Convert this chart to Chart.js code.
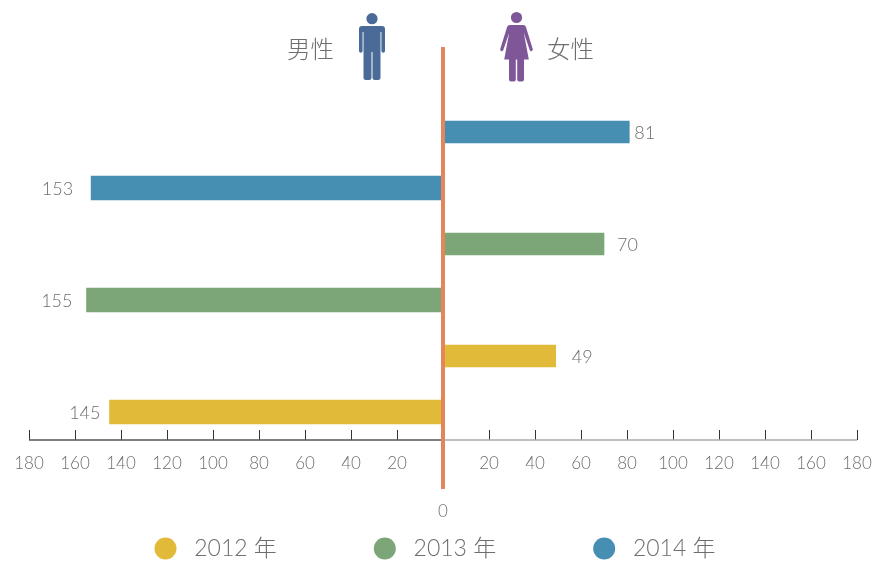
<!DOCTYPE html>
<html><head><meta charset="utf-8">
<style>
html,body{margin:0;padding:0;background:#fff;width:878px;height:562px;overflow:hidden}
#wrap{position:relative;width:878px;height:562px}
.g{position:absolute;top:33px;font:300 23.5px/32px "Lato","Noto Sans CJK SC",sans-serif;color:#6e6e6e}
svg{position:absolute;left:0;top:0}
</style>
<script src="https://cdn.jsdelivr.net/npm/chart.js@4"></script>
</head><body>
<div id="wrap">
<canvas id="c" width="878" height="562"></canvas>
<div class="g" style="left:287px">男性</div>
<div class="g" style="left:547px">女性</div>
<svg width="878" height="100" viewBox="0 0 878 100">
 <g fill="#4a6a97">
  <circle cx="372" cy="18.7" r="5.6"/>
  <path d="M362 26h20a3 3 0 0 1 3 3v22a1.8 1.8 0 0 1-3.600 0V32h-.9V77.500a2.500 2.500 0 0 1-2.500 2.500h-3a2.500 2.500 0 0 1-2.500-2.500V52h-1V77.500a2.500 2.500 0 0 1-2.500 2.500h-3a2.500 2.500 0 0 1-2.500-2.500V32h-.9V51a1.800 1.800 0 0 1-3.600 0V29a3 3 0 0 1 3-3z"/>
 </g>
 <g fill="#7f5698">
  <circle cx="516.500" cy="17.500" r="5.600"/>
  <path d="M510 25h13c1.500 0 2.500 .8 3 2.300l6.800 22a1.600 1.600 0 0 1-3 1l-6-17.500 5 26.700h-24.600l5-26.700-6 17.500a1.600 1.600 0 0 1-3-1l6.800-22c.5-1.500 1.500-2.300 3-2.300z"/>
  <path d="M509 58h6.800v21.500a2 2 0 0 1-2 2h-2.800a2 2 0 0 1-2-2zM517.200 58h6.800v21.500a2 2 0 0 1-2 2h-2.800a2 2 0 0 1-2-2z"/>
 </g>
</svg>
</div>
<script>
const years = ['2012', '2013', '2014'];
const maleValues = [145, 155, 153];
const femaleValues = [49, 70, 81];
const yearColors = ['#e2ba3a', '#7ca677', '#468fb2'];
const categories = ['2014 女', '2014 男', '2013 女', '2013 男', '2012 女', '2012 男'];
const tickValues = [-180,-160,-140,-120,-100,-80,-60,-40,-20,0,20,40,60,80,100,120,140,160,180];
const labelGaps = {'2014 女':5,'2014 男':18,'2013 女':13,'2013 男':14,'2012 女':16,'2012 男':9};

const FONT = '"Lato","Noto Sans CJK SC",sans-serif';
const GREY = '#6e6e6e';

const datasets = [];
years.forEach((y, i) => {
  datasets.push({
    label: y + ' 年', gender: '男',
    data: categories.map(c => c === y + ' 男' ? -maleValues[i] : null),
    backgroundColor: yearColors[i], barThickness: 24, pointStyle: 'circle'
  });
  datasets.push({
    label: y + ' 年', gender: '女',
    data: categories.map(c => c === y + ' 女' ? femaleValues[i] : null),
    backgroundColor: yearColors[i], barThickness: 22, pointStyle: 'circle'
  });
});

const decor = {
  id: 'decor',
  beforeDraw(chart) {
    chart.scales.x.bottom = chart.height;
    chart.legend.right -= 16;
  },
  afterDatasetsDraw(chart) {
    const {ctx, scales: {x}, chartArea} = chart;
    const zero = x.getPixelForValue(0);
    ctx.save();
    ctx.lineWidth = 1.5;
    ctx.strokeStyle = '#555';
    ctx.beginPath(); ctx.moveTo(x.getPixelForValue(-180), chartArea.bottom); ctx.lineTo(zero, chartArea.bottom); ctx.stroke();
    ctx.strokeStyle = '#aaa';
    ctx.beginPath(); ctx.moveTo(zero, chartArea.bottom); ctx.lineTo(x.getPixelForValue(180), chartArea.bottom); ctx.stroke();
    ctx.strokeStyle = '#e5865a';
    ctx.lineWidth = 4;
    ctx.beginPath(); ctx.moveTo(zero, 47); ctx.lineTo(zero, 489); ctx.stroke();
    ctx.font = '300 18px ' + FONT;
    ctx.fillStyle = GREY;
    ctx.textBaseline = 'middle';
    chart.data.datasets.forEach((ds, di) => {
      chart.getDatasetMeta(di).data.forEach((el, j) => {
        const v = ds.data[j];
        if (v === null) return;
        const gap = labelGaps[categories[j]];
        ctx.textAlign = v < 0 ? 'right' : 'left';
        ctx.fillText(String(Math.abs(v)), el.x + (v < 0 ? -gap : gap), el.y + 1);
      });
    });
    ctx.restore();
  }
};

new Chart(document.getElementById('c'), {
  type: 'bar',
  data: {labels: categories, datasets},
  plugins: [decor],
  options: {
    indexAxis: 'y',
    responsive: false,
    animation: false,
    layout: {padding: {left: 29, right: 21, top: 104, bottom: -8}},
    scales: {
      x: {
        type: 'linear', min: -180, max: 180, stacked: true,
        afterBuildTicks(s) { s.ticks = tickValues.map(value => ({value})); },
        afterFit(s) { s.height = 0; s.paddingLeft = 0; s.paddingRight = 0; },
        border: {display: false},
        grid: {drawOnChartArea: false, drawTicks: true, tickLength: -10, color: '#333', lineWidth: 1},
        ticks: {
          autoSkip: false, maxRotation: 0, minRotation: 0, padding: 22,
          color: GREY, font: {family: FONT, size: 17, weight: 300, lineHeight: 1.4},
          callback: v => v === 0 ? ['', '', '0'] : String(Math.abs(v))
        }
      },
      y: {display: false, stacked: true, offset: true, grid: {display: false}}
    },
    plugins: {
      tooltip: {enabled: false},
      legend: {
        position: 'bottom',
        labels: {
          usePointStyle: true, boxWidth: 22, boxHeight: 15.56, padding: 97,
          color: GREY, font: {family: FONT, size: 23, weight: 300},
          filter: item => item.datasetIndex % 2 === 0,
          generateLabels(chart) {
            return Chart.defaults.plugins.legend.labels.generateLabels(chart).map(l => ({...l, text: ' ' + l.text, strokeStyle: 'transparent', lineWidth: 0}));
          }
        }
      }
    }
  }
});
</script>
</body></html>
